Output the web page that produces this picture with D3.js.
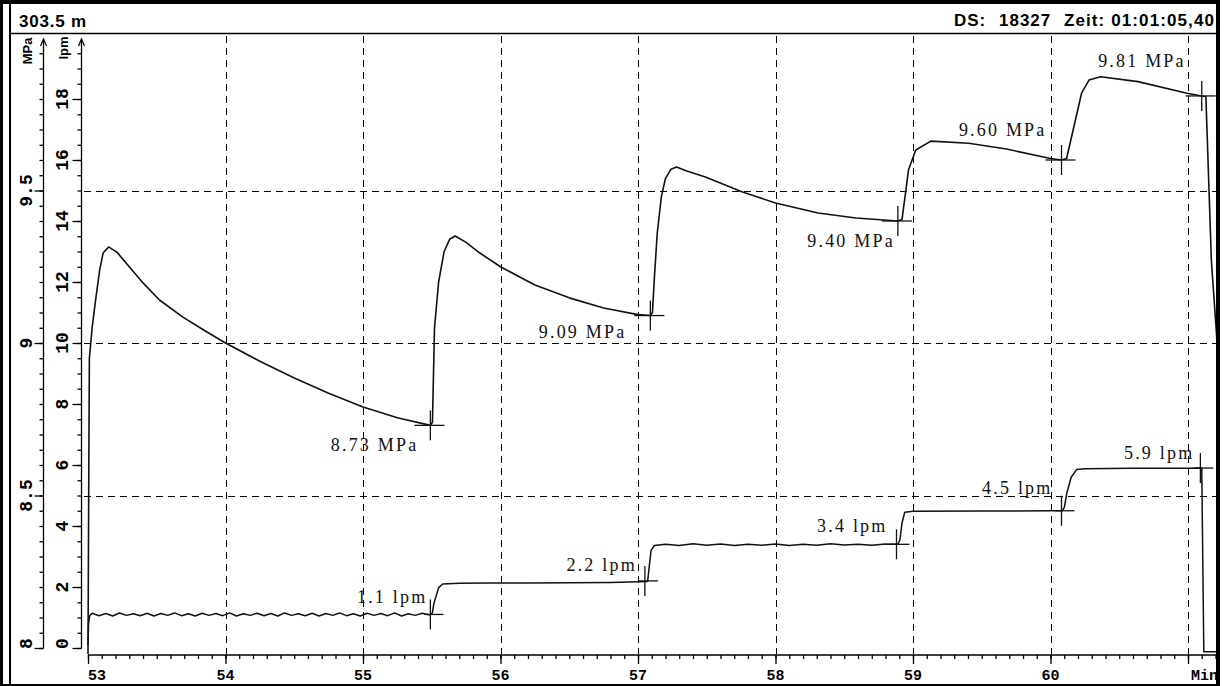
<!DOCTYPE html>
<html><head><meta charset="utf-8">
<script src="https://cdn.jsdelivr.net/npm/d3@7"></script>
<style>
html,body{margin:0;padding:0;background:#fff;}
svg{display:block;}
</style></head>
<body>
<svg id="chart" width="1224" height="686"></svg>
<script>
// ---- header texts ----
const depthText = "303.5 m";
const dsText = "DS:";
const dsNumber = "18327";
const timeText = "Zeit: 01:01:05,40";

// ---- axes ----
const minuteTicks = [53, 54, 55, 56, 57, 58, 59, 60, 61];
const minuteTickLabels = ["53", "54", "55", "56", "57", "58", "59", "60", "Min"];
const pressureTicks = [8, 8.5, 9, 9.5];
const pressureTickLabels = ["8", "8.5", "9", "9.5"];
const flowTicks = [0, 2, 4, 6, 8, 10, 12, 14, 16, 18];
const flowTickLabels = ["0", "2", "4", "6", "8", "10", "12", "14", "16", "18"];
const pressureUnit = "MPa";
const flowUnit = "lpm";

// ---- pressure readings [minute, MPa] ----
const pressureReadings = [
  [53.000, 7.98], [53.006, 8.60], [53.010, 8.95], [53.030, 9.05], [53.055, 9.14],
  [53.085, 9.24], [53.110, 9.295], [53.150, 9.315], [53.210, 9.298], [53.300, 9.250],
  [53.400, 9.197], [53.520, 9.141], [53.690, 9.085], [53.850, 9.040], [54.000, 9.000],
  [54.250, 8.940], [54.500, 8.885], [54.750, 8.835], [55.000, 8.790], [55.250, 8.755],
  [55.490, 8.730], [55.505, 8.740], [55.520, 9.050], [55.550, 9.200], [55.590, 9.300],
  [55.630, 9.340], [55.670, 9.351], [55.750, 9.330], [55.850, 9.295], [56.000, 9.250],
  [56.250, 9.190], [56.500, 9.148], [56.750, 9.115], [57.000, 9.093], [57.090, 9.090],
  [57.105, 9.100], [57.120, 9.220], [57.140, 9.360], [57.170, 9.480], [57.200, 9.540],
  [57.240, 9.570], [57.280, 9.577], [57.350, 9.565], [57.490, 9.544], [57.760, 9.495],
  [58.000, 9.459], [58.310, 9.426], [58.585, 9.410], [58.890, 9.400], [58.920, 9.405],
  [58.945, 9.490], [58.967, 9.567], [59.020, 9.633], [59.130, 9.662], [59.405, 9.655],
  [59.680, 9.636], [60.000, 9.605], [60.080, 9.600], [60.117, 9.605], [60.170, 9.709],
  [60.226, 9.819], [60.280, 9.862], [60.364, 9.873], [60.636, 9.857], [60.993, 9.819],
  [61.100, 9.810], [61.130, 9.808], [61.170, 9.270], [61.215, 8.980]
];

// ---- flow readings [minute, lpm] ----
const flowReadings = [
  [53.000, 0.10], [53.004, 0.80], [53.012, 1.05],
  [53.03, 1.14], [53.08, 1.06], [53.13, 1.13], [53.18, 1.05], [53.23, 1.15], [53.28, 1.07],
  [53.33, 1.12], [53.38, 1.06], [53.43, 1.14], [53.48, 1.05], [53.53, 1.13], [53.58, 1.07],
  [53.63, 1.15], [53.68, 1.06], [53.73, 1.12], [53.78, 1.05], [53.83, 1.14], [53.88, 1.07],
  [53.93, 1.13], [53.98, 1.06], [54.03, 1.15], [54.08, 1.05], [54.13, 1.12], [54.18, 1.07],
  [54.23, 1.14], [54.28, 1.06], [54.33, 1.13], [54.38, 1.05], [54.43, 1.15], [54.48, 1.07],
  [54.53, 1.12], [54.58, 1.06], [54.63, 1.14], [54.68, 1.05], [54.73, 1.13], [54.78, 1.07],
  [54.83, 1.15], [54.88, 1.06], [54.93, 1.12], [54.98, 1.05], [55.03, 1.14], [55.08, 1.07],
  [55.13, 1.13], [55.18, 1.06], [55.23, 1.15], [55.28, 1.05], [55.33, 1.12], [55.38, 1.07],
  [55.43, 1.14], [55.48, 1.09],
  [55.490, 1.10], [55.505, 1.15], [55.515, 1.45], [55.550, 1.98], [55.580, 2.10],
  [55.700, 2.12], [55.900, 2.13], [56.200, 2.13], [56.500, 2.14], [56.800, 2.15],
  [57.070, 2.18], [57.080, 2.60], [57.095, 3.20], [57.120, 3.36],
  [57.20, 3.40], [57.30, 3.36], [57.40, 3.42], [57.50, 3.37], [57.60, 3.41], [57.70, 3.36],
  [57.80, 3.40], [57.90, 3.37], [58.00, 3.41], [58.10, 3.36], [58.20, 3.40], [58.30, 3.37],
  [58.40, 3.42], [58.50, 3.38], [58.60, 3.40], [58.70, 3.37], [58.80, 3.41], [58.89, 3.40],
  [58.905, 3.55], [58.920, 4.10], [58.940, 4.45], [59.000, 4.48], [59.500, 4.49],
  [60.000, 4.50], [60.085, 4.50], [60.100, 4.60], [60.120, 5.10], [60.150, 5.60],
  [60.190, 5.85], [60.250, 5.88], [60.600, 5.89], [61.000, 5.89], [61.100, 5.90],
  [61.115, -0.12], [61.250, -0.12]
];

// ---- marked step end points ----
const pressureMarkTimes = [55.49, 57.09, 58.89, 60.08, 61.10];
const pressureMarkValues = [8.73, 9.09, 9.40, 9.60, 9.81];
const pressureMarkLabels = ["8.73 MPa", "9.09 MPa", "9.40 MPa", "9.60 MPa", "9.81 MPa"];
const flowMarkTimes = [55.49, 57.05, 58.88, 60.08, 61.09];
const flowMarkValues = [1.1, 2.2, 3.4, 4.5, 5.9];
const flowMarkLabels = ["1.1 lpm", "2.2 lpm", "3.4 lpm", "4.5 lpm", "5.9 lpm"];

// ---- drawing ----
const W = 1224, H = 686;
const svg = d3.select("#chart");
const SANS = "'Liberation Sans', Arial, sans-serif";
const MONO = "'Liberation Mono', 'Courier New', monospace";
const SERIF = "'Liberation Serif', 'Times New Roman', serif";

const plotRight = 1216, plotTop = 34, axisY = 655;
const x = d3.scaleLinear().domain([53, 61]).range([88, 1188]);
const yP = d3.scaleLinear().domain([8, 10]).range([648, 38]);
const yF = d3.scaleLinear().domain([0, 20]).range([648, 38]);

svg.append("rect").attr("width", W).attr("height", H).attr("fill", "#fff");

const defs = svg.append("defs");
defs.append("clipPath").attr("id", "plotClip")
  .append("rect").attr("x", 84).attr("y", plotTop).attr("width", plotRight - 84).attr("height", axisY - plotTop);

// header
svg.append("text").attr("x", 19).attr("y", 27).text(depthText)
  .attr("font-family", SANS).attr("font-weight", "bold").attr("font-size", 17).attr("letter-spacing", 0.8);
svg.append("text").attr("x", 954).attr("y", 26).text(dsText)
  .attr("font-family", SANS).attr("font-weight", "bold").attr("font-size", 17).attr("letter-spacing", 1);
svg.append("text").attr("x", 999).attr("y", 26).text(dsNumber)
  .attr("font-family", SANS).attr("font-weight", "bold").attr("font-size", 17).attr("letter-spacing", 1);
svg.append("text").attr("x", 1215).attr("y", 26).attr("text-anchor", "end").text(timeText)
  .attr("font-family", SANS).attr("font-weight", "bold").attr("font-size", 17).attr("letter-spacing", 1.1);
svg.append("line").attr("x1", 10).attr("x2", plotRight).attr("y1", 33.5).attr("y2", 33.5)
  .attr("stroke", "#000").attr("stroke-width", 1.5);

// dashed grid
const grid = svg.append("g").attr("stroke", "#000").attr("stroke-width", 1).attr("stroke-dasharray", "7,5");
grid.selectAll("line.v").data(minuteTicks.slice(1)).join("line")
  .attr("x1", d => Math.round(x(d)) + 0.5).attr("x2", d => Math.round(x(d)) + 0.5)
  .attr("y1", 36).attr("y2", axisY - 1);
grid.selectAll("line.h").data(pressureTicks.slice(1)).join("line")
  .attr("x1", 84).attr("x2", plotRight)
  .attr("y1", d => Math.round(yP(d)) + 0.5).attr("y2", d => Math.round(yP(d)) + 0.5);

// vertical axis helper: minor + major ticks, axis line with arrow
function verticalAxis(scale, ax, minorVals, majorVals) {
  const g = svg.append("g").attr("transform", `translate(${ax},0)`);
  g.call(d3.axisLeft(scale).tickValues(minorVals).tickSize(4).tickSizeOuter(0).tickFormat(""));
  g.call(gg => gg.select(".domain").remove());
  const g2 = svg.append("g").attr("transform", `translate(${ax},0)`);
  g2.call(d3.axisLeft(scale).tickValues(majorVals).tickSize(9).tickSizeOuter(0).tickFormat(""));
  g2.call(gg => gg.select(".domain").remove());
  svg.selectAll("g .tick line").attr("stroke", "#000").attr("stroke-width", 1.3);
  svg.append("line").attr("x1", ax).attr("x2", ax).attr("y1", 648).attr("y2", 39)
    .attr("stroke", "#000").attr("stroke-width", 1.3);
  svg.append("path").attr("d", `M${ax - 3},46 L${ax},39 L${ax + 3},46`)
    .attr("fill", "none").attr("stroke", "#000").attr("stroke-width", 1.2);
}
const pMinor = d3.range(0, 40).map(i => 8 + i * 0.05);
const fMinor = d3.range(0, 40).map(i => i * 0.5);
verticalAxis(yP, 43.5, pMinor, pressureTicks);
verticalAxis(yF, 81.5, fMinor, flowTicks);

function rotatedLabel(cx, cy, txt, anchor, font, size) {
  svg.append("text").attr("transform", `translate(${cx},${cy}) rotate(-90)`)
    .attr("text-anchor", anchor).attr("dominant-baseline", "central")
    .attr("font-family", font).attr("font-weight", "bold").attr("font-size", size)
    .text(txt);
}
pressureTicks.forEach((v, i) => {
  if (i === 0) rotatedLabel(27, 649, pressureTickLabels[i], "start", MONO, 18);
  else rotatedLabel(27, yP(v), pressureTickLabels[i], "middle", MONO, 18);
});
flowTicks.forEach((v, i) => {
  if (i === 0) rotatedLabel(63, 649, flowTickLabels[i], "start", MONO, 18);
  else rotatedLabel(63, yF(v), flowTickLabels[i], "middle", MONO, 18);
});
rotatedLabel(27, 51, pressureUnit, "middle", SANS, 13);
rotatedLabel(63, 48, flowUnit, "middle", SANS, 13);

// bottom time axis
const minuteMinor = d3.range(0, 83).map(i => 53 + i * 0.1).filter(v => x(v) <= plotRight);
const bx = svg.append("g").attr("transform", `translate(0,${axisY})`);
bx.call(d3.axisBottom(x).tickValues(minuteMinor).tickSize(4).tickSizeOuter(0).tickFormat(""));
bx.call(g => g.select(".domain").remove());
const bx2 = svg.append("g").attr("transform", `translate(0,${axisY})`);
bx2.call(d3.axisBottom(x).tickValues(minuteTicks).tickSize(9).tickSizeOuter(0).tickFormat(""));
bx2.call(g => g.select(".domain").remove());
svg.selectAll("g .tick line").attr("stroke", "#000").attr("stroke-width", 1.3);
svg.append("line").attr("x1", 88).attr("x2", plotRight).attr("y1", axisY).attr("y2", axisY)
  .attr("stroke", "#000").attr("stroke-width", 1.3);
minuteTicks.forEach((m, i) => {
  const first = i === 0, last = i === minuteTicks.length - 1;
  svg.append("text").attr("x", last ? x(m) + 3 : x(m)).attr("y", 680)
    .attr("text-anchor", first || last ? "start" : "middle")
    .attr("font-family", MONO).attr("font-weight", "bold").attr("font-size", 15)
    .text(minuteTickLabels[i]);
});

// data lines
const plot = svg.append("g").attr("clip-path", "url(#plotClip)");
plot.append("path").datum(pressureReadings)
  .attr("d", d3.line().x(d => x(d[0])).y(d => yP(d[1])))
  .attr("fill", "none").attr("stroke", "#111").attr("stroke-width", 1.6).attr("stroke-linejoin", "round");
plot.append("path").datum(flowReadings)
  .attr("d", d3.line().x(d => x(d[0])).y(d => yF(d[1])))
  .attr("fill", "none").attr("stroke", "#111").attr("stroke-width", 1.5).attr("stroke-linejoin", "round");

// markers and value labels
const pressureLabelLayout = [
  { dx: -12, dy: 26 }, { dx: -24, dy: 22 }, { dx: -3, dy: 26 }, { dx: -15, dy: -24 }, { dx: -16, dy: -29 }
];
const flowLabelLayout = [
  { dx: -3, dy: -11 }, { dx: -8, dy: -10 }, { dx: -9, dy: -12 }, { dx: -9, dy: -17 }, { dx: -6, dy: -9 }
];
function cross(cx, cy, left, right) {
  plot.append("line").attr("x1", cx - left).attr("x2", cx + right).attr("y1", cy).attr("y2", cy)
    .attr("stroke", "#111").attr("stroke-width", 1.3);
  plot.append("line").attr("x1", cx).attr("x2", cx).attr("y1", cy - 15).attr("y2", cy + 15)
    .attr("stroke", "#111").attr("stroke-width", 1.3);
}
function valueLabel(px, py, txt) {
  svg.append("text").attr("x", px).attr("y", py).attr("text-anchor", "end")
    .attr("font-family", SERIF).attr("font-size", 18).attr("letter-spacing", 2.2)
    .attr("fill", "#111").text(txt);
}
pressureMarkTimes.forEach((t, i) => {
  const cx = x(t), cy = yP(pressureMarkValues[i]);
  cross(cx, cy, 16, 14);
  valueLabel(cx + pressureLabelLayout[i].dx, cy + pressureLabelLayout[i].dy, pressureMarkLabels[i]);
});
flowMarkTimes.forEach((t, i) => {
  const cx = x(t), cy = yF(flowMarkValues[i]);
  cross(cx, cy, 6, 13);
  valueLabel(cx + flowLabelLayout[i].dx, cy + flowLabelLayout[i].dy, flowMarkLabels[i]);
});

// window frame
const frame = svg.append("g").attr("fill", "#000");
frame.append("rect").attr("x", 0).attr("y", 0).attr("width", 1220).attr("height", 4);
frame.append("rect").attr("x", 0).attr("y", 0).attr("width", 3).attr("height", H);
frame.append("rect").attr("x", 9).attr("y", 0).attr("width", 2).attr("height", H);
frame.append("rect").attr("x", 1216).attr("y", 0).attr("width", 4).attr("height", H);
frame.append("rect").attr("x", 0).attr("y", 684).attr("width", 1220).attr("height", 2);
</script>
</body></html>
